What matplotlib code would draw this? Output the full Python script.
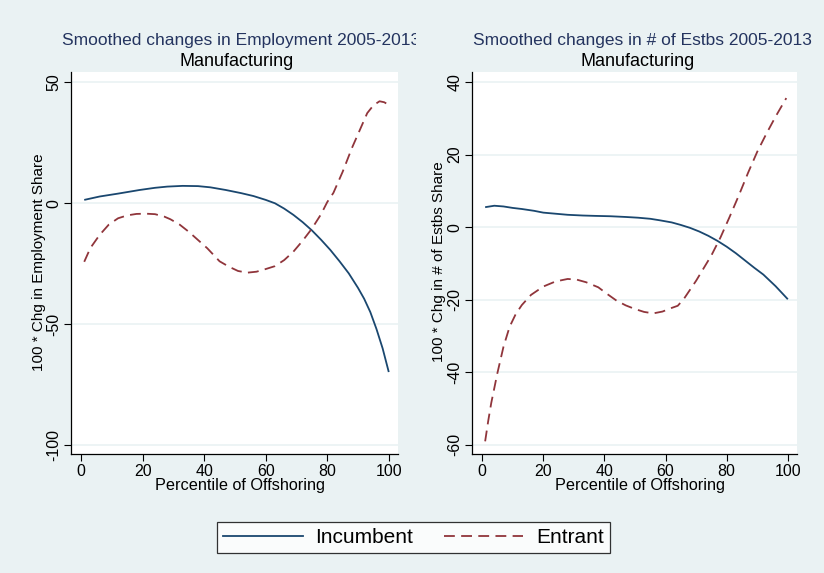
import matplotlib
matplotlib.use("Agg")
import matplotlib.pyplot as plt
from matplotlib.lines import Line2D
from matplotlib.transforms import Bbox

plt.rcParams['font.family'] = ['Liberation Sans', 'DejaVu Sans']

# Employment share changes by offshoring percentile
emp_x_inc = [1, 6, 12, 19, 24, 28, 33, 38, 42, 47, 52, 56, 60, 63, 66, 69, 72, 75, 78, 81, 84, 87, 90, 92, 94, 96, 98, 100]
emp_inc = [1.4, 2.8, 4.0, 5.5, 6.4, 6.9, 7.2, 7.1, 6.6, 5.5, 4.2, 3.0, 1.4, 0.0, -2.2, -4.8, -7.8, -11.2, -15.1, -19.3, -24.0, -29.0, -35.0, -39.5, -45.0, -52.0, -60.0, -69.8]

emp_x_ent = [1, 3, 6, 9, 12, 15, 18, 21, 24, 27, 29, 32, 35, 38, 41, 45, 48, 51, 54, 57, 60, 63, 66, 69, 72, 75, 78, 80, 82, 85, 88, 91, 93, 95, 97, 98.5, 100]
emp_ent = [-24.2, -18.5, -13.1, -8.8, -6.2, -5.0, -4.4, -4.3, -4.5, -5.5, -6.6, -8.8, -11.8, -15.2, -18.6, -24.0, -26.2, -28.0, -28.7, -28.3, -27.2, -26.0, -23.5, -20.0, -15.5, -10.5, -4.5, 0.5, 4.3, 13.0, 22.8, 31.5, 37.3, 40.5, 42.2, 41.8, 40.7]

# Establishment share changes by offshoring percentile
est_x_inc = [1, 4, 7, 10, 13, 17, 20, 24, 28, 33, 37, 42, 47, 51, 55, 58, 62, 65, 68, 71, 74, 77, 80, 83, 86, 89, 92, 96, 100]
est_inc = [5.5, 5.9, 5.7, 5.3, 5.0, 4.5, 4.0, 3.7, 3.4, 3.2, 3.1, 3.0, 2.8, 2.6, 2.3, 1.9, 1.3, 0.6, -0.2, -1.2, -2.4, -3.8, -5.4, -7.2, -9.2, -11.2, -13.1, -16.3, -19.9]

est_x_ent = [1, 2, 3, 5, 7, 9, 11, 13, 16, 20, 24, 28, 31, 34, 38, 41, 44, 47, 50, 53, 56, 59, 62, 64, 66, 68, 70, 72, 75, 78, 81, 84, 87, 90, 93, 96, 99.5]
est_ent = [-59.1, -53.5, -48.5, -40.3, -33.0, -27.5, -24.0, -21.5, -18.7, -16.4, -15.0, -14.3, -14.5, -15.2, -16.6, -18.5, -20.3, -21.6, -22.6, -23.4, -23.8, -23.3, -22.3, -21.7, -19.8, -17.3, -14.8, -12.0, -7.8, -2.8, 2.9, 8.8, 15.0, 20.8, 25.8, 30.5, 35.6]

panels = [
    dict(title='Smoothed changes in Employment 2005-2013',
         ylabel='100 * Chg in Employment Share',
         x_inc=emp_x_inc, inc=emp_inc, x_ent=emp_x_ent, ent=emp_ent,
         yticks=[-100, -50, 0, 50], ylim=(-103.7, 54.3)),
    dict(title='Smoothed changes in # of Estbs 2005-2013',
         ylabel='100 * Chg in # of Estbs Share',
         x_inc=est_x_inc, inc=est_inc, x_ent=est_x_ent, ent=est_ent,
         yticks=[-60, -40, -20, 0, 20, 40], ylim=(-62.6, 42.8)),
]
xticks = [0, 20, 40, 60, 80, 100]

BG = '#eaf2f3'
NAVY = '#1a476f'
MAROON = '#90353b'
TITLE_C = '#24345f'
DASH = (6, 3.5)

W, H = 824, 573
fig = plt.figure(figsize=(W / 100, H / 100), dpi=100, facecolor=BG)

axes_px = [(71, 398), (472, 797)]
top_px, bot_px = 72, 454
ylabel_x = [39.5, 439]
title_cx = [241, 642]
sub_cx = [237, 638]

for i, (p, (x0, x1)) in enumerate(zip(panels, axes_px)):
    ax = fig.add_axes([x0 / W, 1 - bot_px / H, (x1 - x0) / W, (bot_px - top_px) / H])
    ax.set_facecolor('white')
    ax.plot(p['x_inc'], p['inc'], color=NAVY, lw=1.3, solid_capstyle='butt')
    ax.plot(p['x_ent'], p['ent'], color=MAROON, lw=1.3, dashes=DASH)
    ax.set_xlim(-3.3, 103)
    ax.set_ylim(*p['ylim'])
    ax.set_xticks(xticks)
    ax.set_yticks(p['yticks'])
    ax.set_yticklabels([str(v) for v in p['yticks']], rotation=90, va='center')
    ax.tick_params(axis='both', direction='out', length=5, width=0.8, labelsize=11.5, color='black')
    ax.tick_params(axis='x', pad=2)
    ax.tick_params(axis='y', pad=2)
    ax.grid(axis='y', color=BG, lw=1.2)
    ax.set_axisbelow(True)
    for s in ('top', 'right'):
        ax.spines[s].set_visible(False)
    for s in ('left', 'bottom'):
        ax.spines[s].set_linewidth(0.9)
        ax.spines[s].set_color('black')
    ax.set_xlabel('Percentile of Offshoring', fontsize=11.7)
    ax.xaxis.set_label_coords(0.516, -0.063)

    fig.text(ylabel_x[i] / W, 1 - 262 / H, p['ylabel'], rotation=90,
             ha='center', va='center', fontsize=11)
    t = fig.text(title_cx[i] / W, 1 - 40 / H, p['title'], ha='center', va='center',
                 fontsize=12.5, color=TITLE_C)
    if i == 0:
        t.set_clip_box(Bbox([[0, 0], [416, H]]))
        t.set_clip_on(True)
    fig.text(sub_cx[i] / W, 1 - 62 / H, 'Manufacturing', ha='center', va='center',
             fontsize=13, color='black')

handles = [Line2D([], [], color=NAVY, lw=1.3),
           Line2D([], [], color=MAROON, lw=1.3, dashes=DASH)]
leg = fig.legend(handles, ['Incumbent', 'Entrant'], loc='center',
                 bbox_to_anchor=(413.5 / W, 1 - 537.5 / H), ncol=2, fontsize=15,
                 frameon=True, fancybox=False, handlelength=3.8, columnspacing=1.5,
                 handletextpad=0.6, borderpad=0.3, borderaxespad=0)
leg.get_frame().set_edgecolor('black')
leg.get_frame().set_linewidth(0.9)

fig.savefig('out.png', dpi=100, facecolor=BG)
